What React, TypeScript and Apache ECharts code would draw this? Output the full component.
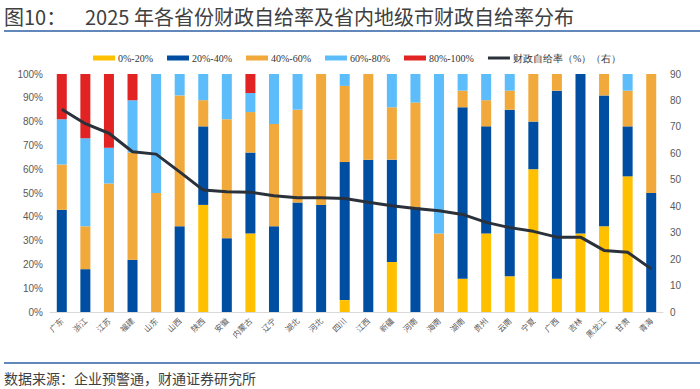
import React, { useEffect, useRef } from "react";
import * as echarts from "echarts";

const categories = ["广东","浙江","江苏","福建","山东","山西","陕西","安徽","内蒙古","辽宁","湖北","河北","四川","江西","新疆","河南","海南","湖南","贵州","云南","宁夏","广西","吉林","黑龙江","甘肃","青海"];
const seriesNames = ["0%-20%","20%-40%","40%-60%","60%-80%","80%-100%"];
const lineName = "财政自给率（%）（右）";
const share0_20 = [0,0,0,0,0,0,45,0,33,0,0,0,5,0,21,0,0,14,33,15,60,14,33,36,57,0];
const share20_40 = [43,18,0,22,0,36,33,31,34,36,46,45,58,64,43,44,0,72,45,70,20,79,67,55,21,50];
const share40_60 = [19,18,54,45,50,55,11,50,17,43,39,55,32,36,22,44,33,7,11,8,20,7,0,9,15,50];
const share60_80 = [19,37,15,22,50,9,11,19,8,21,15,0,5,0,14,12,67,7,11,7,0,0,0,0,7,0];
const share80_100 = [19,27,31,11,0,0,0,0,8,0,0,0,0,0,0,0,0,0,0,0,0,0,0,0,0,0];
const selfSufficiency = [76.7,71.2,67.6,60.6,59.7,53,46.1,45.5,45.3,44.0,43.2,43.2,42.9,41.5,40.2,39.1,38.3,36.9,33.9,31.9,30.5,28.3,28.3,23.3,22.6,16.3];
const leftTicks = [0, 100, 10];
const rightTicks = [0, 90, 10];

const colors = ["#FFC000", "#004EA2", "#F0A93A", "#5DBDFA", "#E12423"];
const lineColor = "#2B313A";
const cjk = "'Noto Sans CJK SC', 'Noto Sans', sans-serif";

export default function App() {
  const ref = useRef<HTMLDivElement>(null);
  useEffect(() => {
    document.body.style.margin = "0";
    const chart = echarts.init(ref.current!, null, { renderer: "svg" });
    const stacks = [share0_20, share20_40, share40_60, share60_80, share80_100];
    chart.setOption({
      animation: false,
      backgroundColor: "#ffffff",
      legend: {
        left: 88,
        top: 48,
        itemWidth: 22,
        itemHeight: 5,
        itemGap: 14,
        symbolKeepAspect: true,
        textStyle: { fontSize: 10, color: "#333", fontFamily: "'Liberation Serif', serif", padding: [0, 0, 0, -2] },
        data: [
          ...seriesNames.map((n) => ({ name: n, icon: "rect" })),
          { name: lineName, icon: "path://M0,0H22V3H0Z", itemStyle: { color: lineColor } },
        ],
      },
      grid: { left: 50, right: 37, top: 74, bottom: 77, containLabel: false },
      xAxis: {
        type: "category",
        data: categories,
        axisLine: { lineStyle: { color: "#D9D9D9", width: 1 } },
        axisTick: { show: false },
        axisLabel: { rotate: 45, fontSize: 8, color: "#595959", fontFamily: cjk, margin: 7, interval: 0 },
      },
      yAxis: [
        {
          type: "value",
          min: leftTicks[0],
          max: leftTicks[1],
          interval: leftTicks[2],
          splitLine: { show: false },
          axisLine: { show: false },
          axisTick: { show: false },
          axisLabel: { formatter: "{value}%", fontSize: 10, color: "#595959", fontFamily: "'Liberation Sans', Arial, sans-serif", margin: 7 },
        },
        {
          type: "value",
          min: rightTicks[0],
          max: rightTicks[1],
          interval: rightTicks[2],
          splitLine: { show: false },
          axisLine: { show: false },
          axisTick: { show: false },
          axisLabel: { fontSize: 10, color: "#595959", fontFamily: "'Liberation Sans', Arial, sans-serif", margin: 7 },
        },
      ],
      series: [
        ...stacks.map((d, i) => ({
          name: seriesNames[i],
          type: "bar",
          stack: "share",
          barWidth: 10,
          data: d,
          itemStyle: { color: colors[i] },
        })),
        {
          name: lineName,
          type: "line",
          yAxisIndex: 1,
          data: selfSufficiency,
          symbol: "none",
          lineStyle: { color: lineColor, width: 3 },
          itemStyle: { color: lineColor },
          z: 5,
        },
      ],
      graphic: [
        { type: "text", left: 4, top: 6, style: { text: "图10：", font: `20px ${cjk}`, fill: "#404040" } },
        { type: "text", left: 85, top: 6, style: { text: "2025 年各省份财政自给率及省内地级市财政自给率分布", font: `20px ${cjk}`, fill: "#404040" } },
        { type: "line", shape: { x1: 4, y1: 31, x2: 700, y2: 31 }, style: { stroke: "#2E5FA3", lineWidth: 1.5 } },
        { type: "line", shape: { x1: 4, y1: 363, x2: 700, y2: 363 }, style: { stroke: "#2E5FA3", lineWidth: 1.5 } },
        { type: "text", left: 4, top: 371, style: { text: "数据来源：企业预警通，财通证券研究所", font: `14px ${cjk}`, fill: "#404040" } },
      ],
    });
    return () => chart.dispose();
  }, []);
  return <div ref={ref} style={{ width: 700, height: 389 }} />;
}
